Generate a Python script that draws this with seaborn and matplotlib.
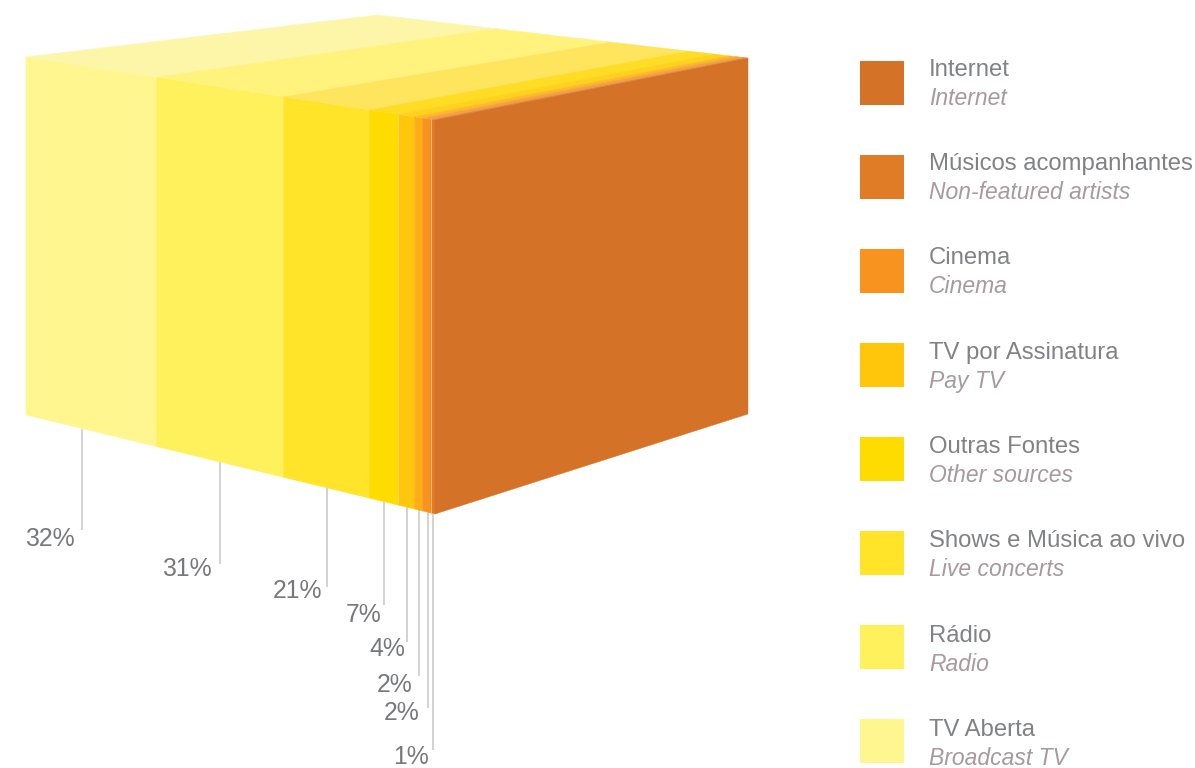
import matplotlib
matplotlib.use("Agg")
import matplotlib.pyplot as plt
import numpy as np
import seaborn as sns

# Revenue share by source, in stacking order along the front face
shares = [32, 31, 21, 7, 4, 2, 2, 1]
share_labels = ["32%", "31%", "21%", "7%", "4%", "2%", "2%", "1%"]

# Legend, top to bottom
legend_pt = ["Internet", "Músicos acompanhantes", "Cinema", "TV por Assinatura",
             "Outras Fontes", "Shows e Música ao vivo", "Rádio", "TV Aberta"]
legend_en = ["Internet", "Non-featured artists", "Cinema", "Pay TV",
             "Other sources", "Live concerts", "Radio", "Broadcast TV"]
legend_colors = ["#D47228", "#E07B26", "#F7931E", "#FFC60B",
                 "#FFDC00", "#FFE42A", "#FFF15C", "#FFF68F"]

front_colors = ["#FFF68F", "#FFF15C", "#FFE42A", "#FFDC00",
                "#FFC60B", "#FDAE17", "#F7931E", "#E07B26"]
top_colors = ["#FDF6A8", "#FFF37E", "#FFE55E", "#FFDC26",
              "#FFD21C", "#FDB92A", "#F8A338", "#E48F48"]
side_color = "#D47228"

# Box corners in figure pixels
FTL, FBL = (26, 57), (26, 415)
FTR, FBR = (435, 120), (435, 514)
BTL, BTR = (378, 15), (748, 58)
BBR = (748, 414)

# Leader lines and the labels hanging from them
leader_x = [82, 220, 327, 384, 407, 419, 428, 433]
leader_end = [530, 564, 587, 605, 642, 676, 708, 750]
label_right = [75, 212, 322, 382, 405, 413, 420, 429]
label_y = [538.5, 569.5, 590.5, 614.5, 649.5, 684.5, 712.5, 757.5]

sns.set_theme(style="white")
plt.rcParams["font.family"] = ["Liberation Sans", "DejaVu Sans"]

fig = plt.figure(figsize=(11.95, 7.68), dpi=100)
ax = fig.add_axes([0, 0, 1, 1])
ax.set_xlim(0, 1195)
ax.set_ylim(768, 0)
ax.axis("off")


def lerp(a, b, t):
    return (a[0] + (b[0] - a[0]) * t, a[1] + (b[1] - a[1]) * t)


edges = np.concatenate([[0], np.cumsum(shares)]) / sum(shares)
for i, (t0, t1) in enumerate(zip(edges[:-1], edges[1:])):
    front = [lerp(FTL, FTR, t0), lerp(FTL, FTR, t1), lerp(FBL, FBR, t1), lerp(FBL, FBR, t0)]
    top = [lerp(FTL, FTR, t0), lerp(FTL, FTR, t1), lerp(BTL, BTR, t1), lerp(BTL, BTR, t0)]
    ax.fill(*zip(*front), color=front_colors[i], lw=0.3, zorder=2)
    ax.fill(*zip(*top), color=top_colors[i], lw=0.3, zorder=2)

ax.fill(*zip(FTR, BTR, BBR, FBR), color=side_color, lw=0.3, zorder=3)

# Pale seams where the narrow slices meet
for t in (edges[4], edges[7]):
    a, b = lerp(FTL, FTR, t), lerp(FBL, FBR, t)
    ax.plot([a[0], b[0]], [a[1], b[1]], color="#E8D8A0", lw=0.7, alpha=0.7, zorder=2.5)

# Leaders start on the bottom edge of the front face
for x, end, right, y, text in zip(leader_x, leader_end, label_right, label_y, share_labels):
    start = lerp(FBL, FBR, (x - FBL[0]) / (FBR[0] - FBL[0]))[1]
    ax.plot([x, x], [start, end], color="#C8C8C8", lw=1.1, zorder=1, solid_capstyle="butt")
    ax.text(right, y, text, ha="right", va="center", fontsize=17.8, color="#77787B")

for i, (pt, en, color) in enumerate(zip(legend_pt, legend_en, legend_colors)):
    top_y = 61 + i * 94
    ax.fill([860, 904, 904, 860], [top_y, top_y, top_y + 44, top_y + 44], color=color, lw=0)
    ax.text(929, 69.8 + i * 94.3, pt, ha="left", va="center", fontsize=17.2, color="#808285")
    ax.text(929, 98.3 + i * 94.3, en, ha="left", va="center", fontsize=16.5,
            style="italic", color="#A8989F")

fig.savefig("out.png", dpi=100, facecolor="white")
